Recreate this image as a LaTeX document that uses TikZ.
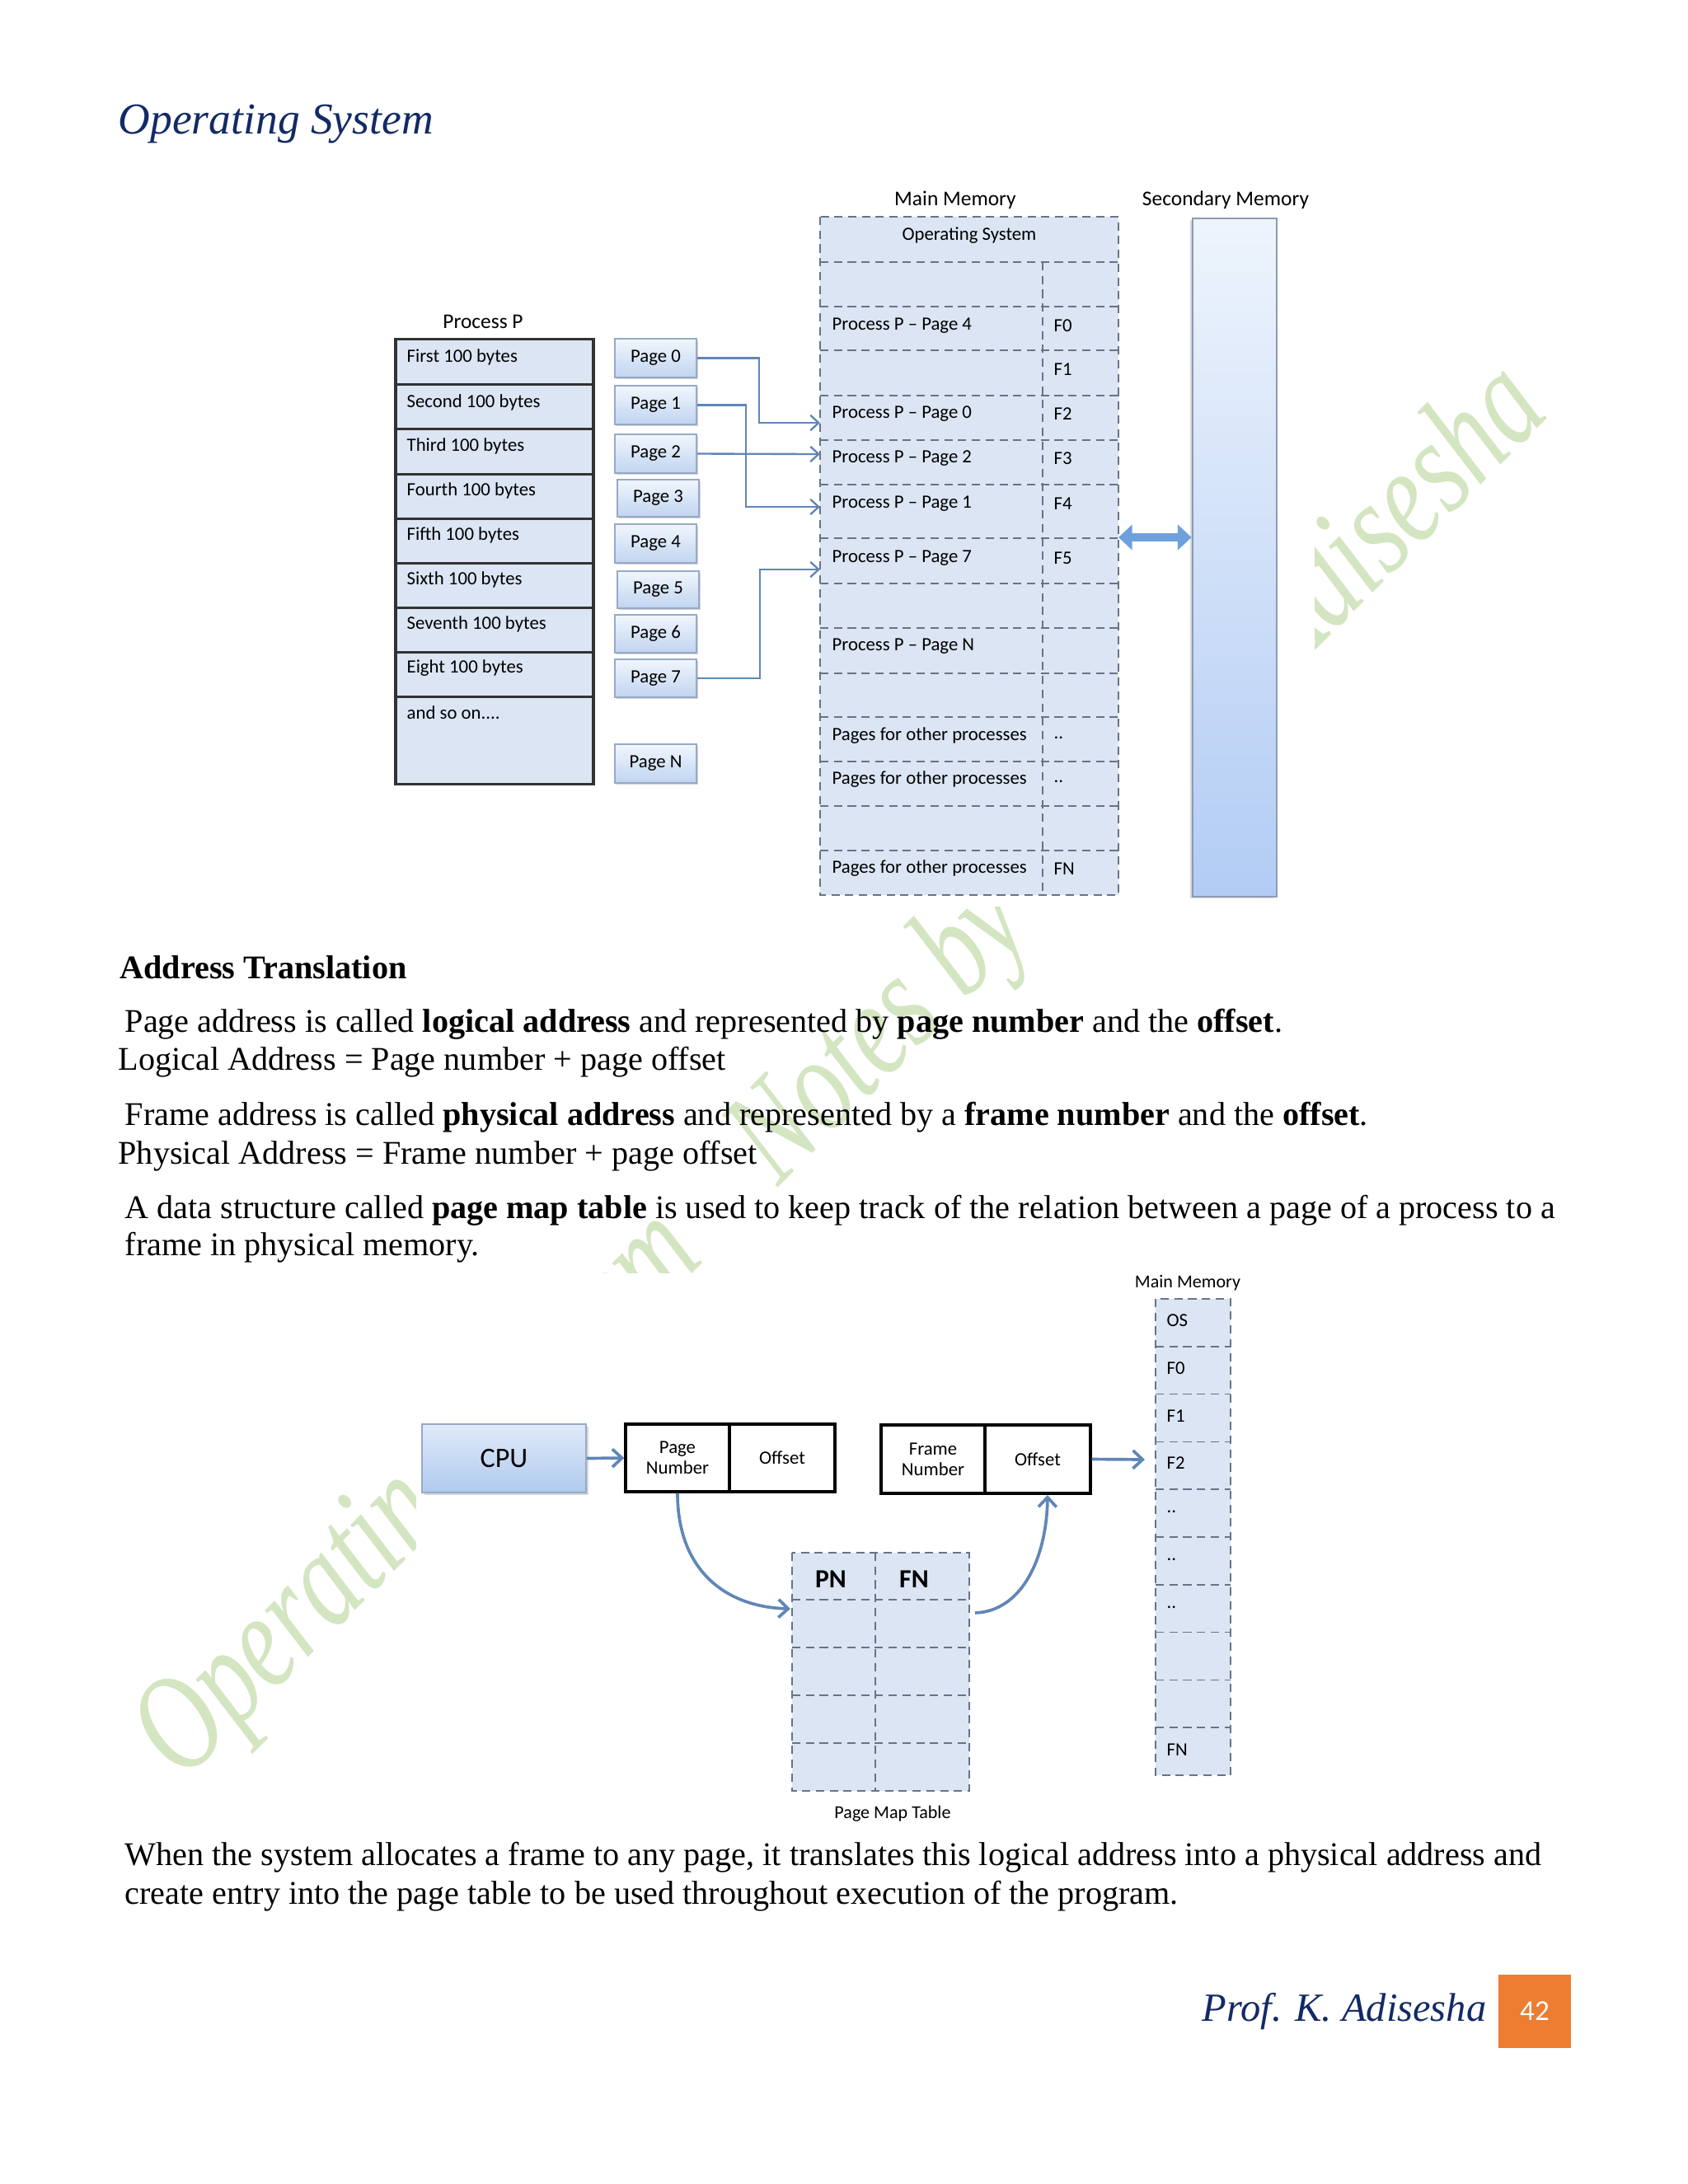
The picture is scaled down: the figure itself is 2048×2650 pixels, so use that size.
\documentclass[tikz,border=0pt]{standalone}
\usepackage{graphicx}
\usepackage{fontspec}
\setmainfont{Liberation Serif}
\newfontfamily\cali{Carlito}
\usetikzlibrary{arrows.meta,fit,shadows,calc}
\definecolor{navy}{RGB}{18,42,102}
\definecolor{wmgreen}{RGB}{212,229,193}
\definecolor{cellblue}{RGB}{219,229,244}
\definecolor{dashgrey}{RGB}{105,115,135}
\definecolor{arrowblue}{RGB}{96,134,184}
\definecolor{pgtop}{RGB}{241,246,253}
\definecolor{pgbot}{RGB}{193,212,240}
\definecolor{secbot}{RGB}{178,204,244}
\definecolor{orangebox}{RGB}{237,125,49}
\definecolor{dblblue}{RGB}{110,160,220}
\begin{document}
\begin{tikzpicture}[x=0.2988pt,y=-0.2988pt,
  body/.style={anchor=base west, inner sep=0, font=\fontsize{12}{14}\selectfont},
  lab/.style={inner sep=0, font=\cali\fontsize{6.8}{8}\selectfont},
  llab/.style={lab, anchor=west},
  title/.style={inner sep=0, font=\cali\fontsize{7.6}{9}\selectfont},
  wm/.style={anchor=base west, rotate=45, inner sep=0, text=wmgreen,
     font=\itshape\fontsize{50}{50}\selectfont},
  inlab/.style={label={[inner sep=0, align=center, font=\cali\fontsize{6.8}{7.6}\selectfont]center:#1}},
  pagebox/.style={inner sep=0, draw={rgb,255:red,150;green,170;blue,200}, line width=0.5pt,
     top color=pgtop, bottom color=pgbot,
     drop shadow={shadow xshift=0.6pt, shadow yshift=-0.6pt, opacity=0.35}},
  procp/.style={draw={rgb,255:red,50;green,50;blue,50}, line width=0.9pt, fill=cellblue},
  memp/.style={draw=dashgrey, densely dashed, line width=0.5pt, fill=cellblue},
  dline/.style={draw=dashgrey, densely dashed, line width=0.5pt},
  pline/.style={draw={rgb,255:red,50;green,50;blue,50}, line width=0.9pt},
  conn/.style={draw=arrowblue, line width=0.7pt, -{Straight Barb[length=3pt,width=5.5pt]}},
  bconn/.style={draw=arrowblue, line width=1.1pt, -{Straight Barb[length=3.5pt,width=6.5pt]}},
  dbl/.style={draw=dblblue, line width=3pt, {Triangle[length=5pt,width=9pt]}-{Triangle[length=5pt,width=9pt]}},
  addrbox/.style={inner sep=0, draw=black, line width=1pt, fill=white}
]
\useasboundingbox (0,0) rectangle (2048,2650);
\fill[white] (0,0) rectangle (2048,2650);

% watermark (partly covered by the two pictures)
\node[wm] (w1) at (222,2163) {\scalebox{0.75}[1]{Operating}};
\node[wm] (w2) at (w1.base east) {\scalebox{0.75}[1]{\ System}};
\node[wm] (w3) at ($(w2.base east)+(65,-65)$) {\scalebox{0.75}[1]{\ Notes}};
\node[wm] (w4) at (w3.base east) {\scalebox{0.75}[1]{\ by}};
\node[wm] (w5) at ($(w4.base east)+(-25,25)$) {\scalebox{0.75}[1]{\ \phantom{Prof. K. }Adisesha}};
\fill[white] (470,215) rectangle (1595,1100);
\fill[white] (505,1545) rectangle (1520,2215);

% header and footer
\node[anchor=base west, inner sep=0, text=navy, font=\itshape\fontsize{16}{18}\selectfont] (hdr) at (143,162) {Operating System};
\node[anchor=base west, inner sep=0, text=navy, font=\itshape\fontsize{14.5}{16}\selectfont] (ftr) at (1458,2452) {Prof. K. Adisesha};
\node[inner sep=0, fill=orangebox, fit={(1818,2396) (1906,2485)},
   label={[inner sep=0, text=white, font=\cali\fontsize{10.5}{12}\selectfont]center:42}] (pgno) {};

% ===== top diagram =====
\node[title] (ptitle) at (586,390) {Process P};
\path[procp] (480,411) rectangle (720,951);
\foreach \y in {466,520,575,629,683,737,791,845} \draw[pline] (480,\y) -- (720,\y);
\node[llab] (b1) at (493,433) {First 100 bytes};
\node[llab] (b2) at (493,488) {Second 100 bytes};
\node[llab] (b3) at (493,541) {Third 100 bytes};
\node[llab] (b4) at (493,595) {Fourth 100 bytes};
\node[llab] (b5) at (493,649) {Fifth 100 bytes};
\node[llab] (b6) at (493,703) {Sixth 100 bytes};
\node[llab] (b7) at (493,757) {Seventh 100 bytes};
\node[llab] (b8) at (493,811) {Eight 100 bytes};
\node[llab] (b9) at (493,865) {and so on....};

\node[pagebox, fit={(746,411) (845,458)}, inlab={Page 0}] (pg0) {};
\node[pagebox, fit={(746,468) (845,515)}, inlab={Page 1}] (pg1) {};
\node[pagebox, fit={(746,527) (845,574)}, inlab={Page 2}] (pg2) {};
\node[pagebox, fit={(749,582) (848,627)}, inlab={Page 3}] (pg3) {};
\node[pagebox, fit={(746,636) (845,683)}, inlab={Page 4}] (pg4) {};
\node[pagebox, fit={(749,693) (848,738)}, inlab={Page 5}] (pg5) {};
\node[pagebox, fit={(746,746) (845,792)}, inlab={Page 6}] (pg6) {};
\node[pagebox, fit={(746,800) (845,846)}, inlab={Page 7}] (pg7) {};
\node[pagebox, fit={(746,903) (845,950)}, inlab={Page N}] (pgN) {};

\node[title] (mmtitle) at (1159,243) {Main Memory};
\path[memp] (995,263) rectangle (1357,1086);
\foreach \y in {318,372,425,480,534,588,653,708,762,817,870,924,978,1032} \draw[dline] (995,\y) -- (1357,\y);
\draw[dline] (1265,318) -- (1265,1086);
\node[lab] (os) at (1176,286) {Operating System};
\node[llab] (m0) at (1009,395) {Process P – Page 4};
\node[llab] (m1) at (1009,502) {Process P – Page 0};
\node[llab] (m2) at (1009,556) {Process P – Page 2};
\node[llab] (m3) at (1009,611) {Process P – Page 1};
\node[llab] (m4) at (1009,677) {Process P – Page 7};
\node[llab] (m5) at (1009,784) {Process P – Page N};
\node[llab] (m6) at (1009,893) {Pages for other processes};
\node[llab] (m7) at (1009,946) {Pages for other processes};
\node[llab] (m8) at (1009,1054) {Pages for other processes};
\node[llab] (f0) at (1278,395) {F0};
\node[llab] (f1) at (1278,448) {F1};
\node[llab] (f2) at (1278,502) {F2};
\node[llab] (f3) at (1278,556) {F3};
\node[llab] (f4) at (1278,611) {F4};
\node[llab] (f5) at (1278,677) {F5};
\node[llab] (fd1) at (1278,895) {..};
\node[llab] (fd2) at (1278,948) {..};
\node[llab] (fN) at (1278,1054) {FN};

\node[title] (sectitle) at (1487,243) {Secondary Memory};
\node[inner sep=0, draw={rgb,255:red,140;green,155;blue,180}, line width=0.8pt,
   top color={rgb,255:red,238;green,244;blue,252}, bottom color=secbot,
   drop shadow={shadow xshift=-0.8pt, shadow yshift=-0.6pt, opacity=0.3},
   fit={(1447,265) (1549,1088)}] (sec) {};

\coordinate (inF2) at (995,513);
\coordinate (inF3) at (995,551);
\coordinate (inF4) at (995,615);
\coordinate (inF5) at (995,691);
\coordinate (mmE) at (1357,652);
\draw[conn] (pg0.east) -- ++(75,0) |- (inF2);
\draw[conn] (pg1.east) -- ++(59,0) |- (inF4);
\draw[conn] (pg2.east) -- (inF3);
\draw[conn] (pg7.east) -- ++(76,0) |- (inF5);
\draw[dbl] (mmE) -- (sec.west |- mmE);

% ===== body text =====
\node[body, font=\bfseries\fontsize{12}{14}\selectfont] (t0) at (145,1187) {Address Translation};
\node[body] (t1) at (151,1252) {Page address is called \textbf{logical address} and represented by \textbf{page number} and the \textbf{offset}.};
\node[body] (t2) at (143,1298) {Logical Address = Page number + page offset};
\node[body] (t3) at (151,1365) {Frame address is called \textbf{physical address} and represented by a \textbf{frame number} and the \textbf{offset}.};
\node[body] (t4) at (143,1412) {Physical Address = Frame number + page offset};
\node[body] (t5) at (151,1478) {A data structure called \textbf{page map table} is used to keep track of the relation between a page of a process to a};
\node[body] (t6) at (151,1523) {frame in physical memory.};
\node[body] (t7) at (151,2263) {When the system allocates a frame to any page, it translates this logical address into a physical address and};
\node[body] (t8) at (151,2310) {create entry into the page table to be used throughout execution of the program.};

% ===== bottom diagram =====
\node[inner sep=0, draw={rgb,255:red,150;green,170;blue,200}, line width=0.6pt,
   top color={rgb,255:red,224;green,234;blue,249}, bottom color={rgb,255:red,176;green,202;blue,238},
   drop shadow={shadow xshift=0.8pt, shadow yshift=-0.8pt, opacity=0.3},
   fit={(512,1728) (711,1811)},
   label={[inner sep=0, font=\cali\fontsize{10.2}{12}\selectfont]center:CPU}] (cpu) {};
\node[addrbox, fit={(759,1728) (885,1810)}, inlab={Page\\Number}] (pnum) {};
\node[addrbox, fit={(885,1728) (1013,1810)}, inlab={Offset}] (poff) {};
\node[addrbox, fit={(1069,1729) (1195,1812)}, inlab={Frame\\Number}] (fnum) {};
\node[addrbox, fit={(1195,1729) (1323,1812)}, inlab={Offset}] (foff) {};

\node[inner sep=0, font=\cali\fontsize{6.6}{8}\selectfont] (mm2t) at (1441,1557) {Main Memory};
\path[memp] (1402,1576) rectangle (1493,2154);
\foreach \y in {1633.8,1691.6,1749.4,1807.2,1865,1922.8,1980.6,2038.4,2096.2} \draw[dline] (1402,\y) -- (1493,\y);
\node[llab] (o1) at (1415,1602) {OS};
\node[llab] (o2) at (1415,1660) {F0};
\node[llab] (o3) at (1415,1718) {F1};
\node[llab] (o4) at (1415,1775) {F2};
\node[llab] (o5) at (1415,1834) {..};
\node[llab] (o6) at (1415,1892) {..};
\node[llab] (o7) at (1415,1950) {..};
\node[llab] (o8) at (1415,2123) {FN};

\path[memp] (961,1884) rectangle (1176,2173);
\foreach \y in {1941,1999,2057,2115} \draw[dline] (961,\y) -- (1176,\y);
\draw[dline] (1062,1884) -- (1062,2173);
\node[inner sep=0, font=\cali\bfseries\fontsize{9.5}{11}\selectfont] (pn) at (1008,1916) {PN};
\node[inner sep=0, font=\cali\bfseries\fontsize{9.5}{11}\selectfont] (fn) at (1109,1916) {FN};
\node[inner sep=0, font=\cali\fontsize{6.6}{8}\selectfont] (pmtt) at (1083,2201) {Page Map Table};

\coordinate (pmtIn) at (959,1952);
\coordinate (pmtOut) at (1183,1957);
\coordinate (offIn) at (1271,1814);
\coordinate (mm2In) at (1389,1771);
\draw[bconn] (cpu.east) -- (pnum.west);
\draw[bconn] (foff.east) -- (mm2In);
\draw[bconn] (pnum.south) .. controls (822,1905) and (880,1950) .. (pmtIn);
\draw[bconn] (pmtOut) .. controls (1240,1955) and (1270,1890) .. (offIn);
\end{tikzpicture}
\end{document}
